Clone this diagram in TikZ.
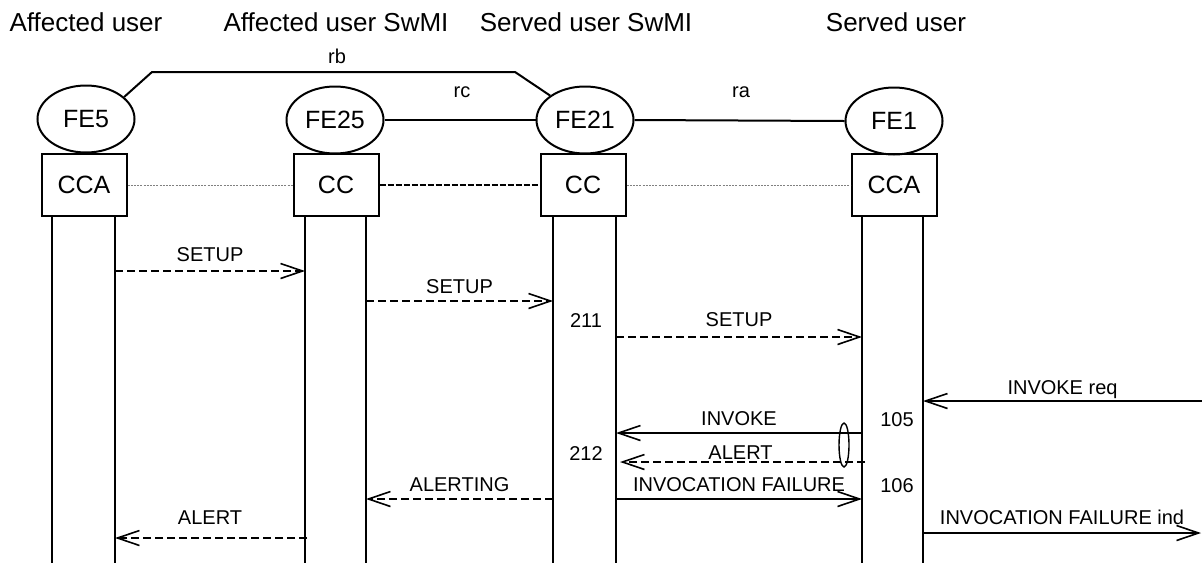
\documentclass[tikz,border=0pt]{standalone}
\usepackage{fontspec}
\setmainfont{Liberation Sans}
\usetikzlibrary{shapes,arrows.meta,positioning}

\tikzset{
  fe/.style={ellipse, draw, line width=1pt, minimum width=48.5pt, minimum height=33.5pt, inner sep=0pt, font=\fontsize{12.5}{14}\selectfont},
  ccbox/.style={rectangle, draw, line width=1pt, minimum width=42.5pt, minimum height=31pt, inner sep=0pt, font=\fontsize{12.5}{14}\selectfont},
  title/.style={anchor=base, inner sep=0pt, font=\fontsize{13}{15}\selectfont},
  lbl/.style={inner sep=0pt, text height=7.2pt, text depth=0pt, font=\fontsize{10}{12}\selectfont},
  small/.style={anchor=base, inner sep=0pt, font=\fontsize{10}{12}\selectfont},
  life/.style={line width=1pt},
  link/.style={line width=1pt},
  msg/.style={line width=0.8pt, -{Straight Barb[length=11pt,width=7.5pt]}},
  msgdash/.style={msg, dash pattern=on 4pt off 2pt},
  faint/.style={draw=gray, line width=0.4pt, dash pattern=on 1pt off 0.6pt},
}

\begin{document}
\begin{tikzpicture}[x=0.5pt, y=-0.5pt]
\useasboundingbox (0,0) rectangle (1202,563);

% column titles
\node[title] (t5) at (86,31) {Affected user};
\node[title] (t25) at (336,31) {Affected user SwMI};
\node[title] (t21) at (586,31) {Served user SwMI};
\node[title] (t1) at (896,31) {Served user};

% functional entities
\node[fe] (fe5) at (86,119) {FE5};
\node[fe] (fe25) at (335,120) {FE25};
\node[fe] (fe21) at (585,120) {FE21};
\node[fe] (fe1) at (894,121) {FE1};

\node[ccbox] (cca5) at (84,185) {CCA};
\node[ccbox] (cc25) at (336,185) {CC};
\node[ccbox] (cc21) at (583,185) {CC};
\node[ccbox] (cca1) at (894,185) {CCA};

% relationships
\coordinate (rbl) at (152,72);
\coordinate (rbr) at (515,72);
\draw[link] (fe5.30) -- (rbl) -- (rbr) -- (fe21.145);
\draw[link] (fe25.east) -- (fe21.west);
\draw[link] (fe21.east) -- (fe1.west);
\node[small] (rb) at (337,63) {rb};
\node[small] (rc) at (462,97) {rc};
\node[small] (ra) at (741,97) {ra};

\draw[faint] (cca5.east) -- (cc25.west);
\draw[line width=0.6pt, dash pattern=on 3pt off 1pt] (cc25.east) -- (cc21.west);
\draw[faint] (cc21.east) -- (cca1.west);

% lifelines
\coordinate (l5a) at (52,216);
\coordinate (l5b) at (115,216);
\coordinate (l25a) at (305,216);
\coordinate (l25b) at (366,216);
\coordinate (l21a) at (553,216);
\coordinate (l21b) at (616,216);
\coordinate (l1a) at (862,216);
\coordinate (l1b) at (923,216);
\draw[life] (l5a) -- (l5a |- 0,563);
\draw[life] (l5b) -- (l5b |- 0,563);
\draw[life] (l25a) -- (l25a |- 0,563);
\draw[life] (l25b) -- (l25b |- 0,563);
\draw[life] (l21a) -- (l21a |- 0,563);
\draw[life] (l21b) -- (l21b |- 0,563);
\draw[life] (l1a) -- (l1a |- 0,563);
\draw[life] (l1b) -- (l1b |- 0,563);

% messages
\draw[msgdash] (l5b |- 0,271) -- node[lbl, yshift=8.5pt] {SETUP} (l25a |- 0,271);
\draw[msgdash] (l25b |- 0,301) -- node[lbl, yshift=7.5pt] {SETUP} (l21a |- 0,301);
\draw[msgdash] (l21b |- 0,337) -- node[lbl, yshift=9pt] {SETUP} (l1a |- 0,337);

\coordinate (req) at (1202,401);
\draw[msg] (req) -- node[lbl, yshift=7pt] {INVOKE req} (l1b |- 0,401);
\draw[msg] (l1a |- 0,433) -- node[lbl, yshift=7.5pt] {INVOKE} (l21b |- 0,433);
\draw[msgdash, shorten >=2pt] ([xshift=1.5pt]l1a |- 0,462) -- node[lbl, yshift=5pt] {ALERT} (l21b |- 0,462);
\node[ellipse, draw, line width=0.7pt, minimum width=5pt, minimum height=22pt, inner sep=0pt] (grp) at (844,445) {};

\draw[msgdash] (l21a |- 0,499) -- node[lbl, yshift=7.5pt] {ALERTING} (l25b |- 0,499);
\draw[msg] (l21b |- 0,499) -- node[lbl, yshift=7.5pt] {INVOCATION FAILURE} (l1a |- 0,499);
\draw[msgdash, shorten <=-1pt] (l25a |- 0,538) -- node[lbl, yshift=10.5pt] {ALERT} (l5b |- 0,538);

\coordinate (ind) at (1201,533);
\draw[msg] (l1b |- 0,533) -- node[lbl, yshift=8pt] {INVOCATION FAILURE ind} (ind);

% state numbers
\node[lbl] (s211) at (586,320) {211};
\node[lbl] (s212) at (586,453) {212};
\node[lbl] (s105) at (897,419) {105};
\node[lbl] (s106) at (897,485) {106};

\end{tikzpicture}
\end{document}
